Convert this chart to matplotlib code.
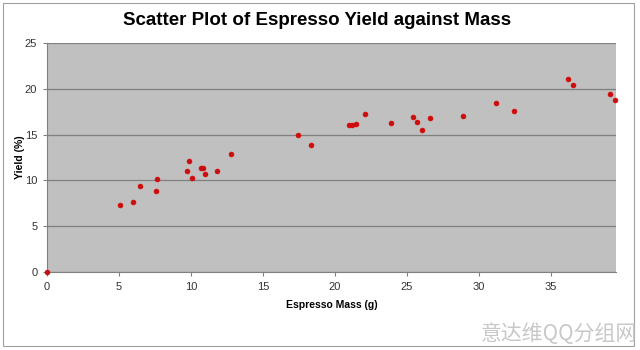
import matplotlib
matplotlib.use("Agg")
import matplotlib.pyplot as plt
from matplotlib.patches import Rectangle

# espresso mass (g) vs yield (%)
mass = [0.0, 5.05, 6.0, 6.46, 7.55, 7.64, 9.75, 9.86, 10.05, 10.7, 10.8, 10.95,
        11.83, 12.74, 17.46, 18.31, 20.97, 21.2, 21.48, 22.1, 23.9, 25.4, 25.72,
        26.0, 26.6, 28.9, 31.2, 32.4, 36.16, 36.5, 39.1, 39.45]
yld = [0.0, 7.35, 7.68, 9.39, 8.8, 10.1, 11.06, 12.12, 10.3, 11.35, 11.35, 10.66,
       11.06, 12.9, 14.98, 13.86, 16.0, 16.0, 16.15, 17.2, 16.3, 16.96, 16.4,
       15.5, 16.76, 17.0, 18.4, 17.6, 21.1, 20.45, 19.4, 18.78]
xticks = [0, 5, 10, 15, 20, 25, 30, 35]
yticks = [0, 5, 10, 15, 20, 25]

plt.rcParams['font.family'] = ['Liberation Sans', 'DejaVu Sans']

fig = plt.figure(figsize=(6.4, 3.5), dpi=100)
ax = fig.add_axes([0.0734, 0.2229, 0.8891, 0.6543])
ax.set_facecolor('#c0c0c0')

ax.scatter(mass, yld, s=12, color='#c41010', edgecolors='#e00000',
           linewidths=0.5, zorder=3, clip_on=False)

ax.set_xlim(0, 39.5)
ax.set_ylim(0, 25)
ax.set_xticks(xticks)
ax.set_yticks(yticks)
ax.yaxis.grid(True, color='#808080', linewidth=0.9)
ax.set_axisbelow(True)
for s in ['top', 'right']:
    ax.spines[s].set_visible(False)
ax.spines['left'].set_color('#808080')
ax.spines['bottom'].set_color('#808080')
ax.tick_params(axis='both', labelsize=8, colors='#333333', length=3,
               color='#808080', pad=4)

ax.set_xlabel('Espresso Mass (g)', fontsize=7.5, fontweight='bold', labelpad=6)
ax.set_ylabel('Yield (%)', fontsize=7.5, fontweight='bold', labelpad=0)
fig.text(0.496, 0.942, 'Scatter Plot of Espresso Yield against Mass', ha='center',
         va='center', fontsize=13.5, fontweight='bold')

# outer frame
fig.patches.append(Rectangle((0.004, 0.012), 0.986, 0.98, transform=fig.transFigure,
                             fill=False, edgecolor='#a0a0a0', linewidth=0.8))

fig.text(0.995, 0.045, '意达维QQ分组网', ha='right', va='center', fontsize=15,
         color='#c8c8c8', family=['Noto Sans CJK SC', 'DejaVu Sans'])

fig.savefig('out.png', dpi=100, facecolor='white')
